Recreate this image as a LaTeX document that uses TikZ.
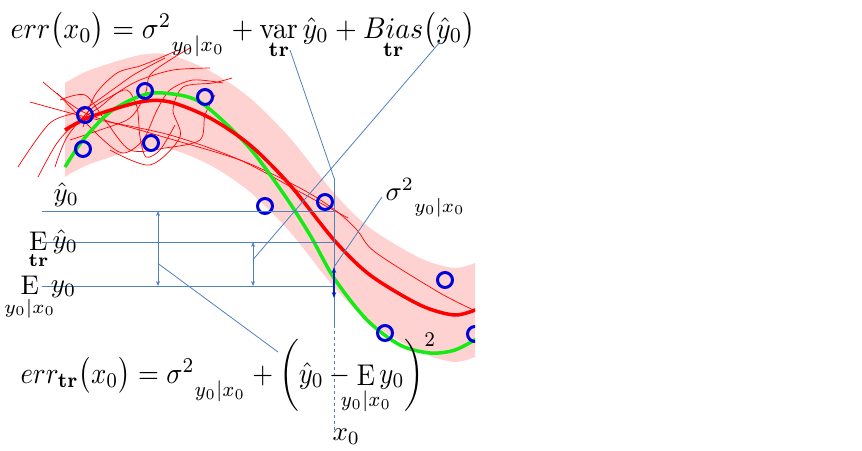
\documentclass[tikz,border=0pt]{standalone}
\usepackage{amsmath,amssymb,mathtools}
\usepackage{xcolor}
\usepackage{tikz}
\usetikzlibrary{calc,arrows.meta,positioning}

\definecolor{bandpink}{RGB}{255,210,210}
\definecolor{leadblue}{RGB}{79,129,189}
\definecolor{truegreen}{RGB}{20,235,20}
\definecolor{obsblue}{RGB}{0,0,220}
\definecolor{deepblue}{RGB}{0,30,200}

\newcommand{\sigsub}{\sigma^{2}{}_{\lower0.3em\hbox{$\scriptstyle y_0|x_0$}}}
\newcommand{\trsub}[1]{\mathop{#1}\limits_{\mathbf{tr}}}
\newcommand{\condE}{\mathop{\mathrm{E}}\limits_{\mathclap{y_0|x_0}}}

\begin{document}
\begin{tikzpicture}[x=1pt,y=-1pt,
  eqtext/.style={inner sep=0pt,anchor=base west,xscale=2.8,yscale=3.0,transform shape},
  boteqtext/.style={eqtext,xscale=2.68/2.8},
  lbltext/.style={inner sep=0pt,anchor=base west,scale=2.7,transform shape},
  obs/.style={circle,draw=obsblue,line width=3pt,minimum size=15pt,inner sep=0pt},
  fitline/.style={red,line width=0.7pt},
  lead/.style={leadblue,line width=0.8pt},
  gap/.style={leadblue,line width=0.8pt,{Stealth[length=5pt,width=4pt]}-{Stealth[length=5pt,width=4pt]}}]
  \useasboundingbox (0,0) rectangle (862,450);
  \begin{scope}
    \clip (0,0) rectangle (475,450);
    \fill[bandpink] plot[smooth] coordinates {(65,83) (90,70) (140,55) (170,55) (210,71) (250,98) (290,138) (334,193) (370,228) (420,258) (455,268) (480,261)}
      -- plot[smooth] coordinates {(480,355) (455,362) (420,352) (370,322) (334,287) (290,232) (250,192) (210,165) (170,149) (140,149) (90,164) (65,177)} -- cycle;
    \draw[fitline] plot[smooth] coordinates {(43,82) (85,113) (150,133) (240,160) (300,188) (335,210) (357,230) (375,252) (440,293) (480,313)};
    \draw[fitline] plot[smooth] coordinates {(30,102) (90,118) (170,135) (240,160) (300,192) (348,218)};
    \draw[fitline] plot[smooth] coordinates {(18,167) (50,123) (83,110) (115,88) (135,74) (165,58)};
    \draw[fitline] plot[smooth] coordinates {(38,177) (57,143) (77,122) (100,107) (117,93) (140,80) (173,70) (210,68)};
    \draw[fitline] plot[smooth] coordinates {(55,167) (67,137) (90,110) (110,97) (127,90) (137,107) (140,137) (146,157) (160,150) (175,125)};
    \draw[fitline] plot[smooth] coordinates {(57,93) (100,137) (123,153) (143,140) (157,110) (170,90) (193,80) (223,83)};
    \draw[fitline] plot[smooth] coordinates {(83,127) (95,95) (117,73) (140,66) (160,58) (178,50)};
    \draw[fitline] plot[smooth] coordinates {(70,140) (100,130) (130,118) (145,95) (150,75) (170,60) (190,48)};
    \draw[fitline] plot[smooth] coordinates {(110,150) (150,165) (180,137) (173,110) (183,87) (213,83) (232,78)};
    \draw[fitline] plot[smooth] coordinates {(60,100) (85,95) (105,120) (130,150) (165,148) (200,140) (205,115) (215,95)};
    \draw[truegreen,line width=3.5pt] plot[smooth] coordinates {(65,167) (83,140) (110,112) (140,96) (163,93) (200,102) (247,145) (283,193) (310,235) (334,278) (367,320) (400,345) (430,353) (455,350) (480,337)};
    \draw[red,line width=3.5pt] plot[smooth] coordinates {(65,130) (90,117) (140,102) (170,102) (210,118) (250,145) (290,185) (334,240) (370,275) (420,305) (455,315) (480,308)};
    \node[obs] (o1) at (85,115) {};
    \node[obs] (o2) at (145,91) {};
    \node[obs] (o3) at (205,97) {};
    \node[obs] (o4) at (83,149) {};
    \node[obs] (o5) at (151,143) {};
    \node[obs] (o6) at (265,206) {};
    \node[obs] (o7) at (325,202) {};
    \node[obs] (o8) at (445,280) {};
    \node[obs] (o9) at (385,333) {};
    \node[obs] (o10) at (475,334) {};
  \end{scope}

  \coordinate (vtop) at (334,178);
  \coordinate (vmid) at (334,325);
  \coordinate (vbot) at (334,432);
  \coordinate (yhatL) at (42,211);
  \coordinate (yhatR) at (334,211);
  \coordinate (etrL) at (42,242);
  \coordinate (etrR) at (334,242);
  \coordinate (eyL) at (42,286);
  \coordinate (eyR) at (334,286);
  \coordinate (gapA) at (158,211);
  \coordinate (gapB) at (158,286);
  \coordinate (gapC) at (253,242);
  \coordinate (gapD) at (253,286);
  \coordinate (noiseA) at (334,267);
  \coordinate (noiseB) at (334,298);

  \draw[lead] (vtop) -- (vmid);
  \draw[lead,dashed] (vmid) -- (vbot);
  \draw[lead] (yhatL) -- (yhatR);
  \draw[lead] (etrL) -- (etrR);
  \draw[lead] (eyL) -- (eyR);
  \draw[gap] (gapA) -- (gapB);
  \draw[gap] (gapC) -- (gapD);
  \draw[deepblue,line width=1.6pt,{Stealth[length=6pt]}-{Stealth[length=6pt]}] (noiseA) -- (noiseB);

  \node[eqtext] (topeq) at (10,38) {$err\bigl(x_0\bigr)=\sigsub+\trsub{\mathrm{var}}\hat y_0+\trsub{Bias}\bigl(\hat y_0\bigr)$};
  \node[boteqtext] (boteq) at (20,383) {$err_{\mathbf{tr}}\bigl(x_0\bigr)=\sigsub+\left(\hat y_0-\condE y_0\right)^{2}$};
  \node[lbltext] (lblyhat) at (53,201) {$\hat y_0$};
  \node[lbltext] (lbletr) at (28,248) {$\trsub{\mathrm{E}}\hat y_0$};
  \node[lbltext] (lbley) at (20,292) {$\condE\;y_0$};
  \node[lbltext] (lblsig) at (385,200) {$\sigsub$};
  \node[lbltext] (lblx0) at (332,440) {$x_0$};

  \coordinate (varpt) at (290,50);
  \coordinate (biaspt) at (440,42);
  \coordinate (sigpt) at (382,197);
  \coordinate (errpt) at (278,352);
  \draw[lead] (varpt) -- (vtop);
  \draw[lead] (biaspt) -- ($(gapC)!0.4!(gapD)$);
  \draw[lead] (sigpt) -- (noiseA);
  \draw[lead] (errpt) -- ($(gapA)!0.7!(gapB)$);
\end{tikzpicture}
\end{document}
